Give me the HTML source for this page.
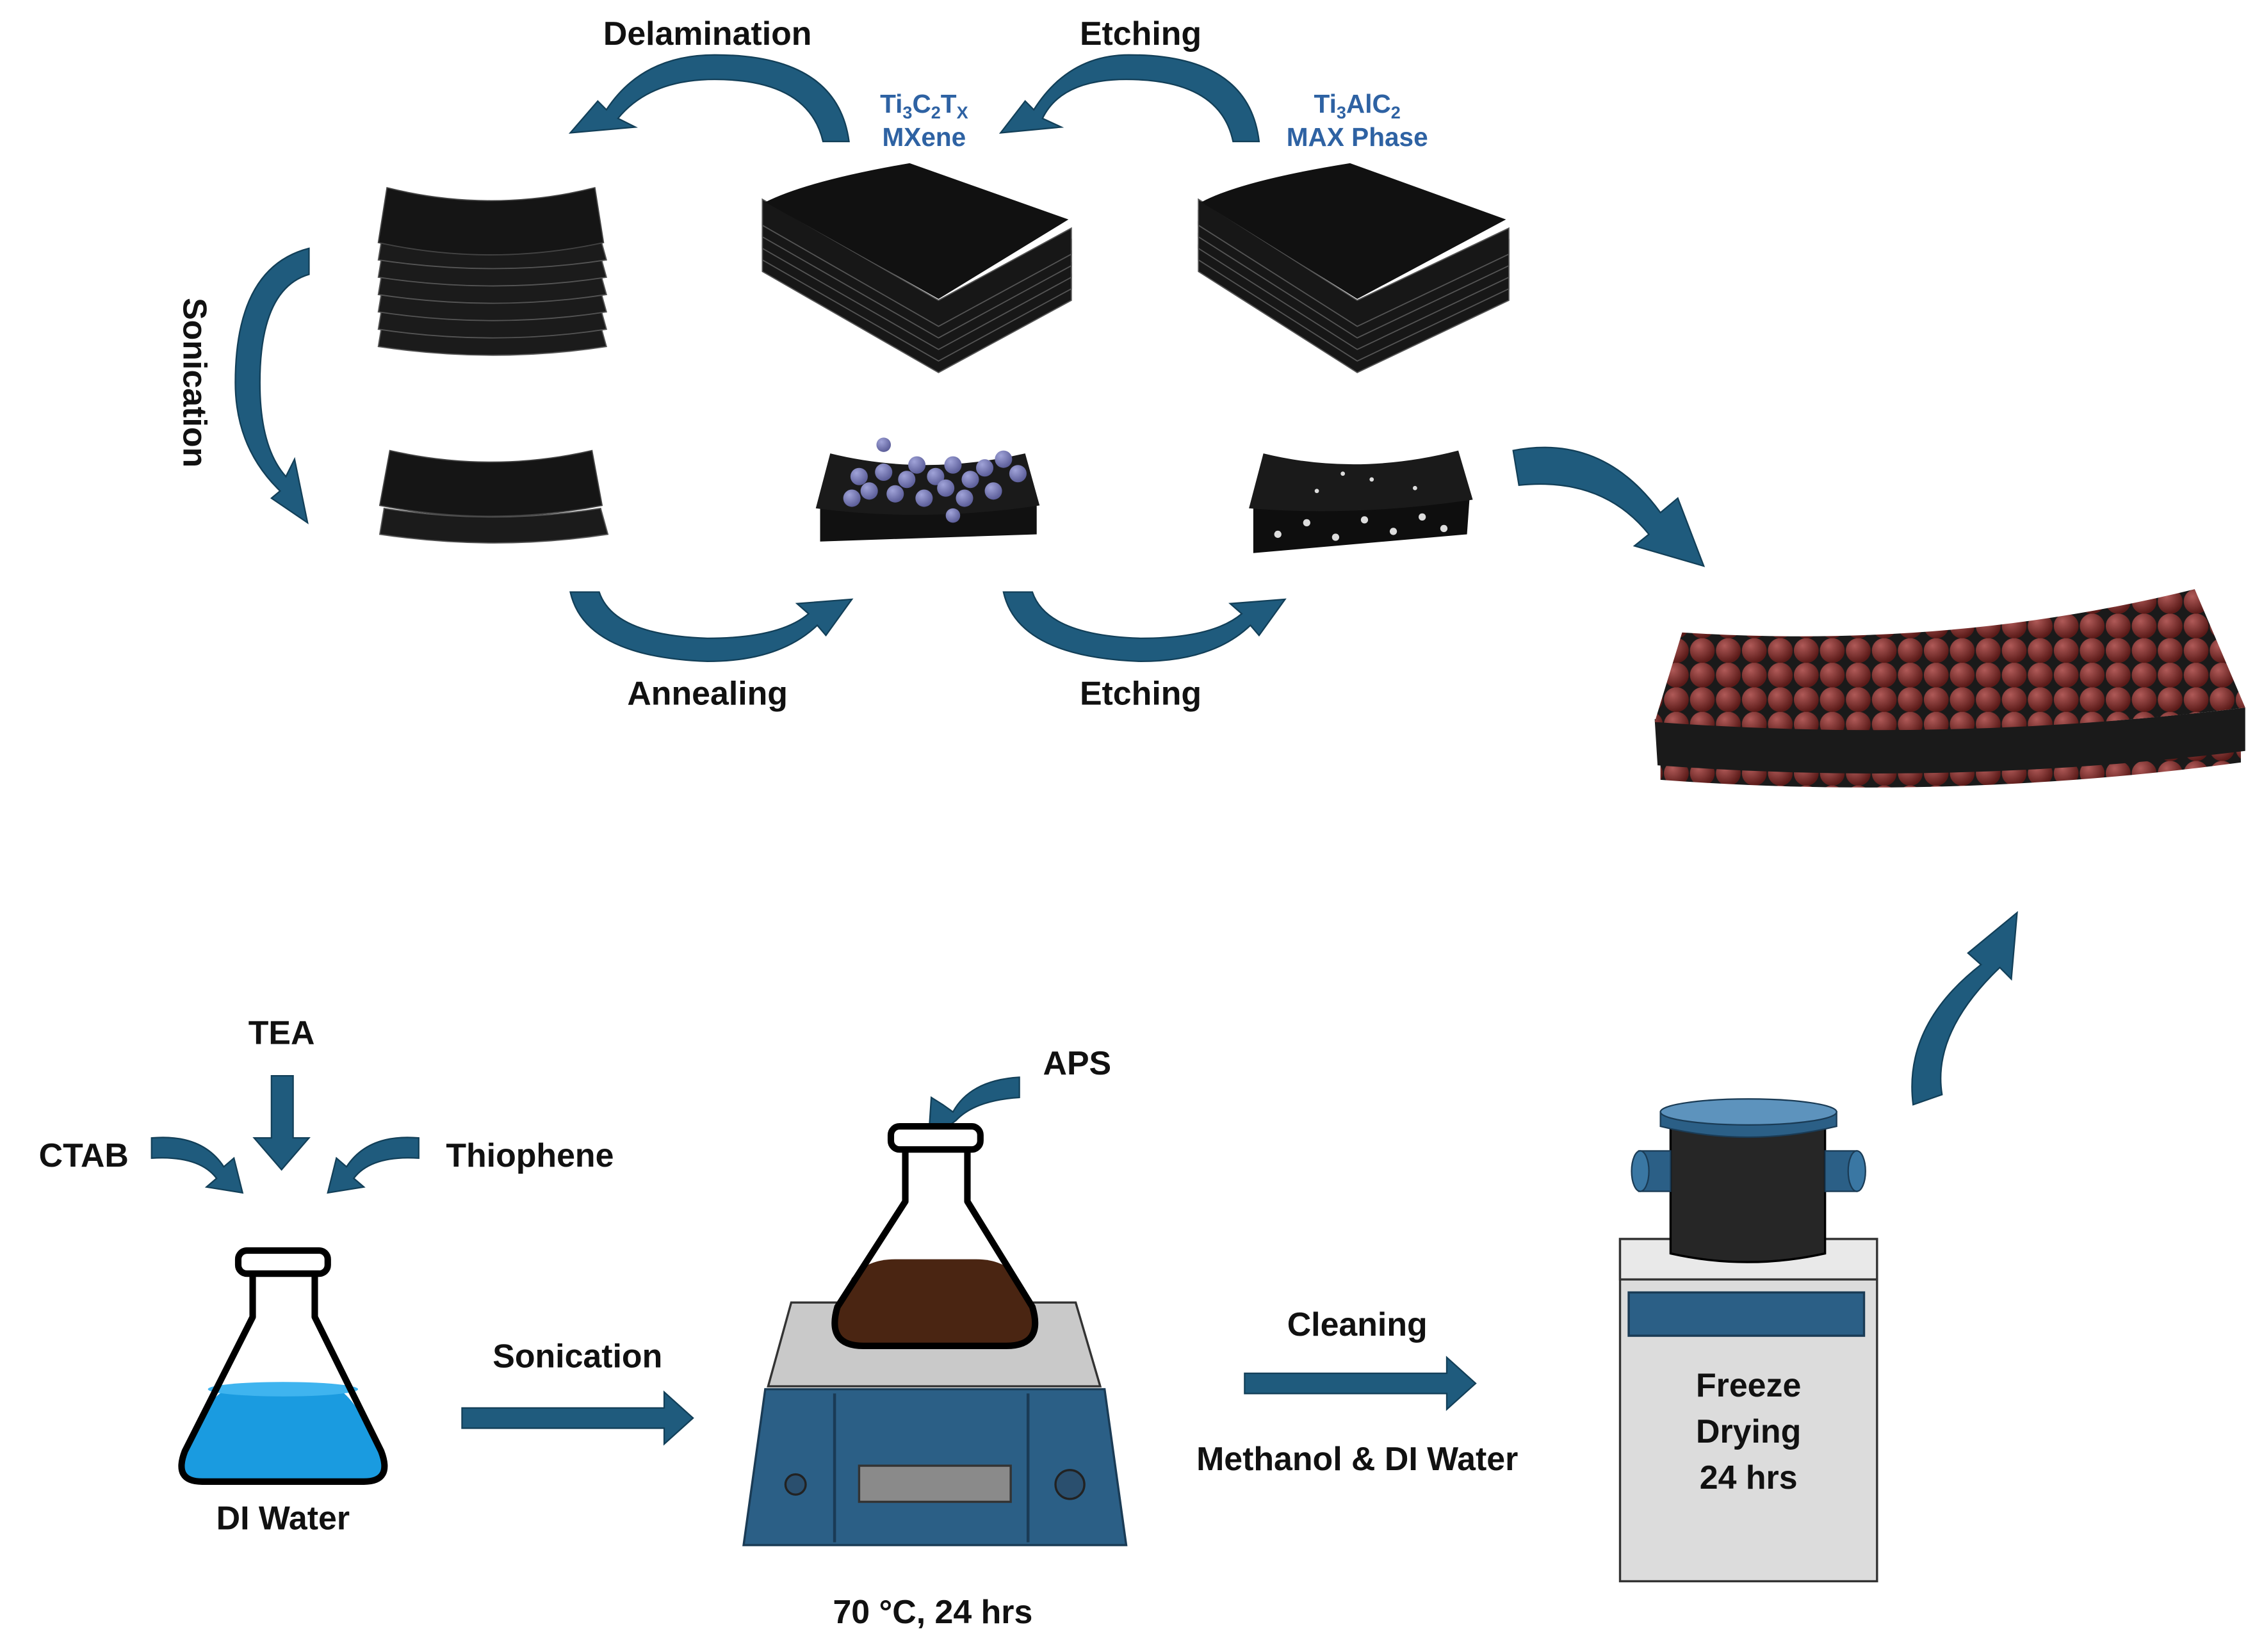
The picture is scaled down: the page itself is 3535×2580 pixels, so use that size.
<!DOCTYPE html>
<html><head><meta charset="utf-8"><style>
html,body{margin:0;padding:0;background:#fff;width:3535px;height:2580px;overflow:hidden}
svg{display:block}
text{font-family:"Liberation Sans",sans-serif;font-weight:bold}
</style></head><body>
<svg width="3535" height="2580" viewBox="0 0 1568 1144" preserveAspectRatio="none" xmlns="http://www.w3.org/2000/svg">
<defs>
<radialGradient id="br" cx="0.35" cy="0.3" r="0.7"><stop offset="0" stop-color="#b05a58"/><stop offset="1" stop-color="#5a1a18"/></radialGradient>
<pattern id="balls" x="0" y="0" width="18" height="17" patternUnits="userSpaceOnUse"><rect width="18" height="17" fill="#1a1a1a"/><circle cx="9" cy="8.5" r="8.6" fill="url(#br)"/></pattern>
<radialGradient id="pu" cx="0.35" cy="0.3" r="0.7"><stop offset="0" stop-color="#a0a3d8"/><stop offset="1" stop-color="#5d5f9a"/></radialGradient>
<g id="sheet"><path d="M0,0 Q75,12 150,0 L155,18 Q77,30 -3,18 Z" fill="#1b1b1b" stroke="#555" stroke-width="0.8"/></g>
</defs>
<g fill="#1f5b7d" stroke="#123f58" stroke-width="1">
<path d="M588,98 L570,98 Q560,55 495,55 Q450,55 428,82 L440,88 L395,92 L414,70 L420,76 Q445,38 495,38 Q580,38 588,98 Z"/>
<path d="M872,98 L854,98 Q845,55 780,55 Q735,55 722,82 L735,88 L693,92 L710,70 L716,76 Q740,38 782,38 Q865,38 872,98 Z"/>
<path d="M214,172 L214,190 Q180,200 180,265 Q180,310 198,330 L204,318 L213,362 L188,345 L194,340 Q163,310 163,265 Q163,185 214,172 Z"/>
<path d="M395,410 L415,410 Q425,440 490,442 Q540,442 560,425 L552,418 L590,415 L572,440 L566,433 Q540,458 490,458 Q405,455 395,410 Z"/>
<path d="M695,410 L715,410 Q725,440 790,442 Q840,442 860,425 L852,418 L890,415 L872,440 L866,433 Q840,458 790,458 Q705,455 695,410 Z"/>
<path d="M1048,312 Q1110,300 1150,355 L1162,345 L1180,392 L1132,378 L1142,370 Q1110,330 1052,336 Z"/>
<path d="M1325,765 Q1318,710 1372,668 L1363,660 L1397,632 L1393,678 L1385,670 Q1338,715 1345,758 Z"/>
<path d="M188,745 L203,745 L203,788 L214,788 L195,810 L176,788 L188,788 Z"/>
<path d="M105,788 Q140,785 155,808 L162,802 L168,826 L143,822 L150,816 Q138,800 105,802 Z"/>
<path d="M290,788 Q255,785 240,808 L233,802 L227,826 L252,822 L245,816 Q257,800 290,802 Z"/>
<path d="M706,746 Q672,748 660,770 L653,765 L645,760 L643,790 L662,776 Q675,762 706,760 Z"/>
<path d="M320,975 L460,975 L460,964 L480,982 L460,1000 L460,989 L320,989 Z"/>
<path d="M862,951 L1002,951 L1002,940 L1022,958 L1002,976 L1002,965 L862,965 Z"/>
</g>

<g>
<use href="#sheet" x="265" y="222"/><use href="#sheet" x="265" y="210"/><use href="#sheet" x="265" y="198"/><use href="#sheet" x="265" y="186"/><use href="#sheet" x="265" y="174"/><use href="#sheet" x="265" y="162"/>
<path d="M268,130 Q340,148 412,130 L418,168 Q340,185 262,168 Z" fill="#151515" stroke="#444" stroke-width="0.8"/>
</g>
<g stroke="#555" stroke-width="0.8" fill="#171717">
<path d="M528,170 L650,240 L742,190 L742,208 L650,258 L528,188 Z"/>
<path d="M528,162 L650,232 L742,182 L742,200 L650,250 L528,180 Z"/>
<path d="M528,154 L650,224 L742,174 L742,192 L650,242 L528,172 Z"/>
<path d="M528,146 L650,216 L742,166 L742,184 L650,234 L528,164 Z"/>
<path d="M528,138 L650,208 L742,158 L742,176 L650,226 L528,156 Z"/>
<path d="M530,140 Q560,125 630,113 L740,152 L650,207 Z" fill="#111" stroke="none"/>
</g>
<g stroke="#555" stroke-width="0.8" fill="#171717">
<path d="M830,170 L940,240 L1045,190 L1045,208 L940,258 L830,188 Z"/>
<path d="M830,162 L940,232 L1045,182 L1045,200 L940,250 L830,180 Z"/>
<path d="M830,154 L940,224 L1045,174 L1045,192 L940,242 L830,172 Z"/>
<path d="M830,146 L940,216 L1045,166 L1045,184 L940,234 L830,164 Z"/>
<path d="M830,138 L940,208 L1045,158 L1045,176 L940,226 L830,156 Z"/>
<path d="M832,140 Q860,125 935,113 L1043,152 L940,207 Z" fill="#111" stroke="none"/>
</g>
<use href="#sheet" x="266" y="352"/>
<path d="M270,312 Q340,328 410,312 L417,350 Q340,365 263,350 Z" fill="#151515" stroke="#444" stroke-width="0.8"/>
<path d="M568,352 L718,348 L718,370 L568,375 Z" fill="#111"/>
<path d="M575,314 Q640,330 710,314 L720,350 Q640,362 565,352 Z" fill="#1a1a1a"/>
<g fill="url(#pu)">
<circle cx="595" cy="330" r="6"/><circle cx="602" cy="340" r="6"/><circle cx="612" cy="327" r="6"/><circle cx="620" cy="342" r="6"/><circle cx="628" cy="332" r="6"/><circle cx="635" cy="322" r="6"/><circle cx="640" cy="345" r="6"/><circle cx="648" cy="330" r="6"/><circle cx="655" cy="338" r="6"/><circle cx="660" cy="322" r="6"/><circle cx="668" cy="345" r="6"/><circle cx="672" cy="332" r="6"/><circle cx="682" cy="324" r="6"/><circle cx="688" cy="340" r="6"/><circle cx="695" cy="318" r="6"/><circle cx="705" cy="328" r="6"/><circle cx="590" cy="345" r="6"/><circle cx="612" cy="308" r="5"/><circle cx="660" cy="357" r="5"/>
</g>
<path d="M868,348 L1018,342 L1016,370 L868,383 Z" fill="#0e0e0e"/>
<path d="M875,314 Q940,330 1010,312 L1020,346 Q940,358 865,352 Z" fill="#1a1a1a"/>
<g fill="#ddd"><circle cx="885" cy="370" r="2.5"/><circle cx="905" cy="362" r="2.5"/><circle cx="925" cy="372" r="2.5"/><circle cx="945" cy="360" r="2.5"/><circle cx="965" cy="368" r="2.5"/><circle cx="985" cy="358" r="2.5"/><circle cx="1000" cy="366" r="2.5"/><circle cx="912" cy="340" r="1.5"/><circle cx="950" cy="332" r="1.5"/><circle cx="980" cy="338" r="1.5"/><circle cx="930" cy="328" r="1.5"/></g>
<!-- Big ball sheet -->
<path d="M1150,522 Q1350,545 1552,515 L1552,528 Q1350,555 1150,540 Z" fill="url(#balls)"/>
<path d="M1146,498 Q1350,515 1555,490 L1555,520 Q1350,545 1148,530 Z" fill="#1a1a1a"/>
<path d="M1165,438 Q1350,450 1520,408 L1555,490 Q1350,515 1146,500 Z" fill="url(#balls)"/>

<path d="M128,1010 L143,975 Q150,965 160,960 L232,960 Q240,965 247,975 L265,1010 Q270,1024 255,1024 L135,1024 Q122,1024 128,1010 Z" fill="#1a9be0"/>
<ellipse cx="196" cy="962" rx="52" ry="5" fill="#3fb4ef"/>
<path d="M175,882 L175,912 L128,1005 Q120,1026 140,1026 L252,1026 Q272,1026 264,1005 L218,912 L218,882" fill="none" stroke="#000" stroke-width="4.5" stroke-linejoin="round"/>
<rect x="165" y="866" width="62" height="16" rx="6" fill="#fff" stroke="#000" stroke-width="4.5"/>

<path d="M515,1070 L530,962 L765,962 L780,1070 Z" fill="#2b5f86" stroke="#1a3b55" stroke-width="1.5"/>
<line x1="578" y1="965" x2="578" y2="1068" stroke="#1a3b55" stroke-width="2"/>
<line x1="712" y1="965" x2="712" y2="1068" stroke="#1a3b55" stroke-width="2"/>
<rect x="595" y="1015" width="105" height="25" fill="#8a8a8a" stroke="#333" stroke-width="1.5"/>
<circle cx="551" cy="1028" r="7" fill="#2a4f6e" stroke="#222" stroke-width="1.5"/>
<circle cx="741" cy="1028" r="10" fill="#2a4f6e" stroke="#222" stroke-width="1.5"/>
<path d="M548,902 L745,902 L762,960 L532,960 Z" fill="#c9c9c9" stroke="#333" stroke-width="1.5"/>
<path d="M580,905 L590,885 Q600,872 620,872 L676,872 Q696,872 705,885 L715,905 Q720,930 700,930 L596,930 Q575,930 580,905 Z" fill="#4a2512"/>
<path d="M627,796 L627,832 L580,905 Q572,932 598,932 L697,932 Q723,932 715,905 L670,832 L670,796" fill="none" stroke="#000" stroke-width="4.5" stroke-linejoin="round"/>
<rect x="617" y="780" width="62" height="16" rx="6" fill="#fff" stroke="#000" stroke-width="4.5"/>

<rect x="1122" y="858" width="178" height="237" fill="#dcdcdc" stroke="#333" stroke-width="1.5"/>
<rect x="1122" y="858" width="178" height="28" fill="#e9e9e9" stroke="#333" stroke-width="1.5"/>
<rect x="1128" y="895" width="163" height="30" fill="#2b5f86" stroke="#1a3b55" stroke-width="1.5"/>
<path d="M1157,780 L1157,868 Q1210,880 1264,868 L1264,780 Z" fill="#262626" stroke="#000" stroke-width="1.5"/>
<rect x="1135" y="797" width="22" height="28" fill="#2b5f86" stroke="#1a3b55"/>
<ellipse cx="1136" cy="811" rx="6" ry="14" fill="#3a77a3" stroke="#1a3b55"/>
<rect x="1264" y="797" width="22" height="28" fill="#2b5f86" stroke="#1a3b55"/>
<ellipse cx="1286" cy="811" rx="6" ry="14" fill="#3a77a3" stroke="#1a3b55"/>
<path d="M1150,770 L1150,780 Q1210,795 1272,780 L1272,770 Z" fill="#2b5f86" stroke="#1a3b55"/>
<ellipse cx="1211" cy="770" rx="61" ry="9" fill="#5d93bd" stroke="#1a3b55"/>

<g font-size="23" fill="#111" text-anchor="middle">
<text x="490" y="31">Delamination</text>
<text x="790" y="31">Etching</text>
<text x="490" y="488">Annealing</text>
<text x="790" y="488">Etching</text>
<text transform="translate(127,265) rotate(90)" x="0" y="0">Sonication</text>
<text x="195" y="723">TEA</text>
<text x="58" y="808">CTAB</text>
<text x="367" y="808">Thiophene</text>
<text x="196" y="1059">DI Water</text>
<text x="400" y="947">Sonication</text>
<text x="746" y="744">APS</text>
<text x="646" y="1124">70 °C, 24 hrs</text>
<text x="940" y="925">Cleaning</text>
<text x="940" y="1018">Methanol &amp; DI Water</text>
<text x="1211" y="967">Freeze</text>
<text x="1211" y="999">Drying</text>
<text x="1211" y="1031">24 hrs</text>
</g>
<g font-size="18" fill="#2e62a3" text-anchor="middle">
<text x="640" y="78">Ti<tspan font-size="12" dy="4">3</tspan><tspan dy="-4">C</tspan><tspan font-size="12" dy="4">2</tspan><tspan dy="-4">T</tspan><tspan font-size="12" dy="4">X</tspan></text>
<text x="640" y="101">MXene</text>
<text x="940" y="78">Ti<tspan font-size="12" dy="4">3</tspan><tspan dy="-4">AlC</tspan><tspan font-size="12" dy="4">2</tspan></text>
<text x="940" y="101">MAX Phase</text>
</g>
</svg>
</body></html>
